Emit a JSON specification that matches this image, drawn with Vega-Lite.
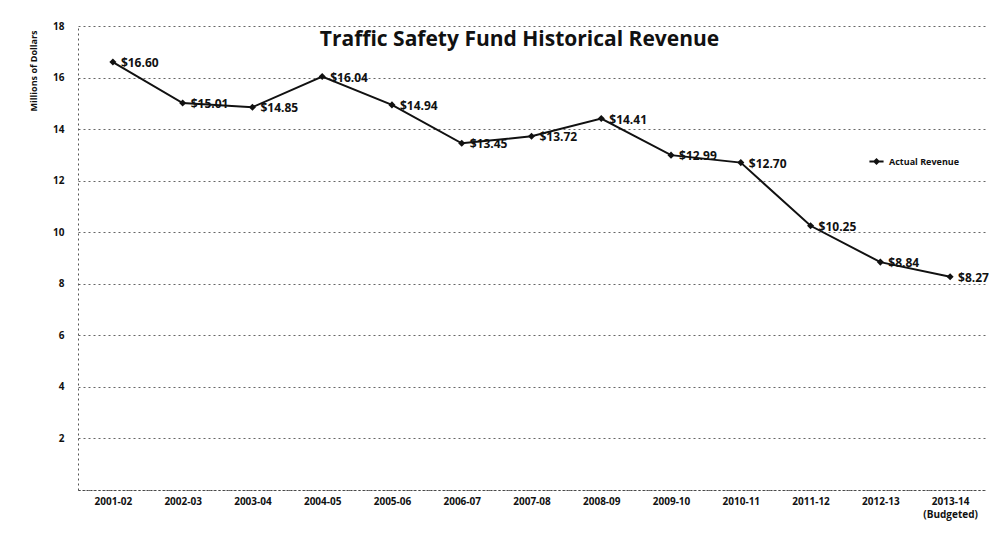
{
  "$schema": "https://vega.github.io/schema/vega-lite/v6.json",
  "width": 907,
  "height": 464,
  "autosize": "none",
  "padding": {"left": 78, "top": 26, "right": 4, "bottom": 44},
  "background": "white",
  "title": {"text": "Traffic Safety Fund Historical Revenue", "font": "Open Sans", "fontSize": 21, "fontWeight": "bold", "color": "#111", "orient": "top", "anchor": "middle", "offset": -29, "baseline": "top", "dx": -12},
  "config": {"view": {"stroke": null}},
  "data": {"values": [
    {"year": "2001-02", "rev": 16.60, "series": "Actual Revenue"},
    {"year": "2002-03", "rev": 15.01, "series": "Actual Revenue"},
    {"year": "2003-04", "rev": 14.85, "series": "Actual Revenue"},
    {"year": "2004-05", "rev": 16.04, "series": "Actual Revenue"},
    {"year": "2005-06", "rev": 14.94, "series": "Actual Revenue"},
    {"year": "2006-07", "rev": 13.45, "series": "Actual Revenue"},
    {"year": "2007-08", "rev": 13.72, "series": "Actual Revenue"},
    {"year": "2008-09", "rev": 14.41, "series": "Actual Revenue"},
    {"year": "2009-10", "rev": 12.99, "series": "Actual Revenue"},
    {"year": "2010-11", "rev": 12.70, "series": "Actual Revenue"},
    {"year": "2011-12", "rev": 10.25, "series": "Actual Revenue"},
    {"year": "2012-13", "rev": 8.84, "series": "Actual Revenue"},
    {"year": "2013-14 (Budgeted)", "rev": 8.27, "series": "Actual Revenue"}
  ]},
  "encoding": {
    "x": {"field": "year", "type": "ordinal", "sort": null, "scale": {"type": "point", "padding": 0.5},
      "axis": {"title": null, "labelAngle": 0, "labelFont": "Open Sans", "labelFontSize": 10, "labelFontWeight": "bold", "labelColor": "#111", "labelExpr": "split(datum.label, ' ')", "labelLineHeight": 13, "labelBaseline": "top", "domain": true, "domainDash": [2, 2], "domainColor": "#444", "ticks": false, "labelPadding": 6, "grid": false}},
    "y": {"field": "rev", "type": "quantitative", "scale": {"domain": [0, 18]},
      "axis": {"title": "Millions of Dollars", "titleFont": "Open Sans", "titleFontSize": 9, "titleFontWeight": "bold", "titleColor": "#111", "titleAnchor": "end", "titleY": 4, "titlePadding": 14, "values": [0, 2, 4, 6, 8, 10, 12, 14, 16, 18], "labelExpr": "datum.value == 0 ? '' : datum.label", "labelFont": "Open Sans", "labelFontSize": 10, "labelFontWeight": "bold", "labelColor": "#111", "labelPadding": 14, "ticks": false, "domain": true, "domainDash": [2, 3], "domainColor": "#555", "grid": true, "gridDash": [2, 3], "gridColor": "#666", "gridWidth": 1}}
  },
  "layer": [
    {"mark": {"type": "line", "color": "#111", "strokeWidth": 2, "point": {"shape": "diamond", "size": 50, "filled": true, "color": "#111"}},
     "encoding": {"color": {"field": "series", "type": "nominal", "scale": {"range": ["#111"]},
       "legend": {"title": null, "orient": "none", "legendX": 790, "legendY": 127, "labelFont": "Open Sans", "labelFontSize": 9, "labelFontWeight": "bold", "labelColor": "#111", "symbolType": "M-1,0L1,0M-0.3,0L0,-0.3L0.3,0L0,0.3Z", "symbolSize": 200, "symbolStrokeWidth": 2, "symbolFillColor": "#111"}}}},
    {"mark": {"type": "text", "align": "left", "baseline": "middle", "dx": 8, "dy": 1, "font": "Open Sans", "fontSize": 12, "fontWeight": "bold", "color": "#111"},
     "encoding": {"text": {"field": "rev", "type": "quantitative", "format": "$.2f"}}}
  ]
}
